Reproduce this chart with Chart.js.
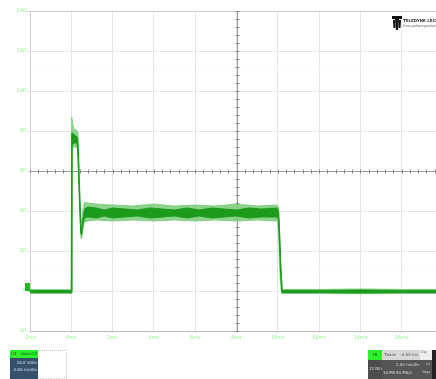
<!DOCTYPE html>
<html>
<head>
<meta charset="utf-8">
<script src="https://cdn.jsdelivr.net/npm/chart.js@4.4.1/dist/chart.umd.min.js"></script>
<style>
  html, body { margin: 0; padding: 0; background: #fff; overflow: hidden; }
  #wrap { position: relative; width: 444px; height: 379px; }
  #scope { position: absolute; left: 0; top: 0; }
  .box { position: absolute; font-family: "DejaVu Sans", sans-serif; font-size: 4px; line-height: 1; white-space: nowrap; overflow: hidden; }
  .box span { position: absolute; white-space: nowrap; }
  .logo { position: absolute; left: 392px; top: 15px; width: 50px; height: 16px; font-family: "DejaVu Sans", sans-serif; }
</style>
</head>
<body>
<div id="wrap">
  <canvas id="scope" width="444" height="379"></canvas>

  <!-- manufacturer logo -->
  <div class="logo">
    <svg width="10" height="14" style="position:absolute;left:0;top:1px" viewBox="0 0 10 14">
      <path d="M0 0 H10 V3 H7 L6 14 H4 L3 3 H0 Z" fill="#111"/>
      <path d="M1 4 L3 4 L3.5 12 L1.5 12 Z M9 4 L7 4 L6.5 12 L8.5 12 Z" fill="#111"/>
    </svg>
    <div style="position:absolute;left:11px;top:3px;font-size:4px;font-weight:bold;color:#333;white-space:nowrap">TELEDYNE LECROY</div>
    <div style="position:absolute;left:11px;top:9px;font-size:3.5px;color:#666;white-space:nowrap">Everywhereyoulook</div>
  </div>

  <!-- channel descriptor -->
  <div class="box" style="left:10px;top:350px;width:57px;height:29px;border:1px dotted #ccc;box-sizing:border-box"></div>
  <div class="box" style="left:10px;top:350px;width:28px;height:8px;background:#2ef02e;color:#145214">
    <span style="left:1px;top:2px">C4</span>
    <span style="right:1px;top:2px">zoomC4</span>
  </div>
  <div class="box" style="left:10px;top:358px;width:28px;height:21px;background:#36506c;color:#dfe6ee">
    <span style="right:1px;top:3px">20.0 V/div</span>
    <span style="right:1px;top:10px">2.00 ms/div</span>
  </div>

  <!-- timebase descriptor -->
  <div class="box" style="left:368px;top:350px;width:14px;height:10px;background:#2ef02e;color:#145214">
    <span style="left:4px;top:3px">1B</span>
  </div>
  <div class="box" style="left:382px;top:350px;width:38px;height:10px;background:#d8d8d8;color:#555">
    <span style="left:2px;top:3px">Tbase</span>
    <span style="right:2px;top:3px">-4.00 ms</span>
  </div>
  <div class="box" style="left:420px;top:350px;width:12px;height:10px;background:#eee;color:#555;font-size:3px">
    <span style="left:1px;top:1px">Trig</span>
  </div>
  <div class="box" style="left:432px;top:350px;width:12px;height:29px;background:#222"></div>
  <div class="box" style="left:368px;top:360px;width:14px;height:19px;background:#4d4d4d;color:#ddd">
    <span style="left:1px;top:7px">12 Bits</span>
  </div>
  <div class="box" style="left:382px;top:360px;width:50px;height:19px;background:#555;color:#ddd">
    <span style="left:14px;top:3px">2.00 ms/div</span>
    <span style="left:1px;top:11px">10 MS</span>
    <span style="left:14px;top:11px">50 MS/s</span>
    <span style="right:2px;top:3px;font-size:3px">C4</span>
    <span style="right:2px;top:11px;font-size:3px">Edge</span>
  </div>
</div>

<script>
// Time axis (ms) and vertical axis (V) tick values
const timeTicks = [-2, 0, 2, 4, 6, 8, 10, 12, 14, 16, 18];
const levelTicks = [-20, 0, 20, 40, 60, 80, 100, 120, 140];

// Outer (persistence) envelope of the captured pulse
const outerUpperT = [-2, -0.02, 0.00, 0.02, 0.06, 0.12, 0.22, 0.31, 0.35, 0.40, 0.45, 0.50, 0.56, 0.64, 0.80, 1.2, 2, 3, 4, 5, 6, 7, 8, 9, 9.95, 10.03, 10.09, 10.15, 10.22, 12, 14, 16, 18];
const outerUpperV = [0.6, 0.6, 40, 87, 84, 81, 80.5, 80, 74, 55, 38, 34, 40, 44.5, 44, 43.5, 43, 42.5, 43.5, 42.5, 43, 42.5, 43.5, 42.5, 43, 42, 30, 12, 0.8, 0.8, 1, 0.8, 0.8];
const outerLowerT = [-2, 0.02, 0.03, 0.10, 0.30, 0.34, 0.40, 0.46, 0.50, 0.55, 0.62, 0.8, 1.2, 2, 3, 4, 5, 6, 7, 8, 9, 10.0, 10.05, 10.12, 10.18, 12, 14, 16, 18];
const outerLowerV = [-1.2, -1.2, 70, 72, 72, 60, 40, 27, 26, 30, 34.5, 35, 35.5, 35, 35.5, 35, 35.5, 35, 35.5, 35, 35.5, 35, 25, 5, -1.2, -1.2, -1.4, -1.2, -1.2];

// Dense core of the trace
const innerUpperT = [-2, 0.00, 0.02, 0.06, 0.15, 0.28, 0.33, 0.40, 0.46, 0.50, 0.56, 0.64, 0.8, 1.2, 1.6, 2.0, 2.6, 3.2, 3.8, 4.4, 5.0, 5.6, 6.2, 6.8, 7.4, 8.0, 8.6, 9.2, 9.95, 10.04, 10.09, 10.15, 10.21, 12, 14, 16, 18];
const innerUpperV = [0.3, 0.3, 79, 79, 78, 77, 72, 50, 33, 30, 36, 41, 42, 41.5, 40.5, 41.5, 41, 40.5, 41.5, 41, 40.5, 41.5, 40.5, 41.5, 41, 40.5, 41.5, 41, 41.5, 40, 28, 12, 0.3, 0.3, 0.5, 0.3, 0.3];
const innerLowerT = [-2, 0.03, 0.04, 0.15, 0.28, 0.33, 0.40, 0.46, 0.50, 0.56, 0.64, 0.8, 1.2, 1.6, 2.0, 2.6, 3.2, 3.8, 4.4, 5.0, 5.6, 6.2, 6.8, 7.4, 8.0, 8.6, 9.2, 9.95, 10.03, 10.08, 10.14, 10.20, 12, 14, 16, 18];
const innerLowerV = [-0.8, -0.8, 73, 74, 74, 66, 45, 29, 28, 33, 36.5, 37, 36.5, 37.5, 36.5, 37, 37.5, 36.5, 37, 37.5, 36.5, 37.5, 36.5, 37, 37.5, 36.5, 37, 37, 36, 24, 8, -0.8, -0.8, -1, -0.8, -0.8];

const pts = (ts, vs) => ts.map((t, i) => ({ x: t, y: vs[i] }));

const LIGHT = 'rgba(120, 205, 120, 0.85)';
const DARK = '#1c9a1c';
const LABEL = '#8cf08c';

// Oscilloscope decorations: center graticule with minor ticks, cursor dots, ground marker
const graticule = {
  id: 'graticule',
  beforeDatasetsDraw(chart) {
    const { ctx, chartArea: a, scales: { x, y } } = chart;
    ctx.save();
    // faint dotted cursor lines
    ctx.strokeStyle = '#e2e2e2';
    ctx.lineWidth = 1;
    ctx.setLineDash([1, 7]);
    [110, 10].forEach(v => {
      const py = Math.round(y.getPixelForValue(v)) + 0.5;
      ctx.beginPath(); ctx.moveTo(a.left + 4, py); ctx.lineTo(a.right, py); ctx.stroke();
    });
    ctx.setLineDash([]);
    // center cross with minor ticks
    const cx = Math.round(x.getPixelForValue(8)) + 0.5;
    const cy = Math.round(y.getPixelForValue(60)) + 0.5;
    ctx.strokeStyle = '#9a9a9a';
    ctx.beginPath();
    ctx.moveTo(cx, a.top); ctx.lineTo(cx, a.bottom);
    ctx.moveTo(a.left, cy); ctx.lineTo(a.right, cy);
    ctx.stroke();
    ctx.strokeStyle = '#8a8a8a';
    ctx.beginPath();
    for (let v = -20; v <= 140; v += 4) {
      const py = Math.round(y.getPixelForValue(v)) + 0.5;
      ctx.moveTo(cx - 2, py); ctx.lineTo(cx + 2, py);
    }
    for (let t = -2; t <= 18; t += 0.4) {
      const px = Math.round(x.getPixelForValue(t)) + 0.5;
      ctx.moveTo(px, cy - 2); ctx.lineTo(px, cy + 2);
    }
    ctx.stroke();
    ctx.restore();
  },
  afterDraw(chart) {
    const { ctx, chartArea: a, scales: { y } } = chart;
    const y0 = y.getPixelForValue(0);
    ctx.save();
    ctx.fillStyle = '#22b822';
    ctx.fillRect(a.left - 5, y0 - 8, 5, 8);
    ctx.fillRect(a.left - 1, y0 - 1.5, 4, 2);
    ctx.restore();
  }
};

new Chart(document.getElementById('scope'), {
  type: 'line',
  data: {
    datasets: [
      { data: pts(outerUpperT, outerUpperV), borderColor: LIGHT, borderWidth: 1, fill: false, order: 2 },
      { data: pts(outerLowerT, outerLowerV), borderColor: LIGHT, borderWidth: 1, fill: '-1', backgroundColor: LIGHT, order: 2 },
      { data: pts(innerUpperT, innerUpperV), borderColor: DARK, borderWidth: 1, fill: false, order: 1 },
      { data: pts(innerLowerT, innerLowerV), borderColor: DARK, borderWidth: 1, fill: '-1', backgroundColor: DARK, order: 1 }
    ]
  },
  options: {
    responsive: false,
    animation: false,
    events: [],
    layout: { padding: { left: 0, top: 11, right: 1, bottom: 34 } },
    elements: { point: { radius: 0 }, line: { tension: 0 } },
    plugins: { legend: { display: false }, tooltip: { enabled: false } },
    scales: {
      x: {
        type: 'linear',
        min: -2, max: 18,
        afterBuildTicks: s => { s.ticks = timeTicks.map(v => ({ value: v })); },
        afterFit: s => { s.height = 14; s.paddingLeft = 0; s.paddingRight = 0; },
        ticks: {
          color: LABEL, padding: 2, maxRotation: 0,
          font: { family: 'DejaVu Sans', size: 5 },
          callback: v => v + 'ms'
        },
        grid: { color: '#e6e6e6', lineWidth: 1, tickLength: 2, drawTicks: true },
        border: { color: '#b8b8b8', width: 1 }
      },
      y: {
        type: 'linear',
        min: -20, max: 140,
        afterBuildTicks: s => { s.ticks = levelTicks.map(v => ({ value: v })); },
        afterFit: s => { s.width = 30; s.paddingTop = 0; s.paddingBottom = 0; },
        ticks: {
          color: LABEL, padding: 1,
          font: { family: 'DejaVu Sans', size: 5 },
          callback: v => String(v)
        },
        grid: {
          color: c => (c.tick && c.tick.value === 140) ? '#cfcfcf' : '#e6e6e6',
          lineWidth: 1, tickLength: 3
        },
        border: { color: '#d0d0d0', width: 1 }
      }
    }
  },
  plugins: [graticule]
});
</script>
</body>
</html>
